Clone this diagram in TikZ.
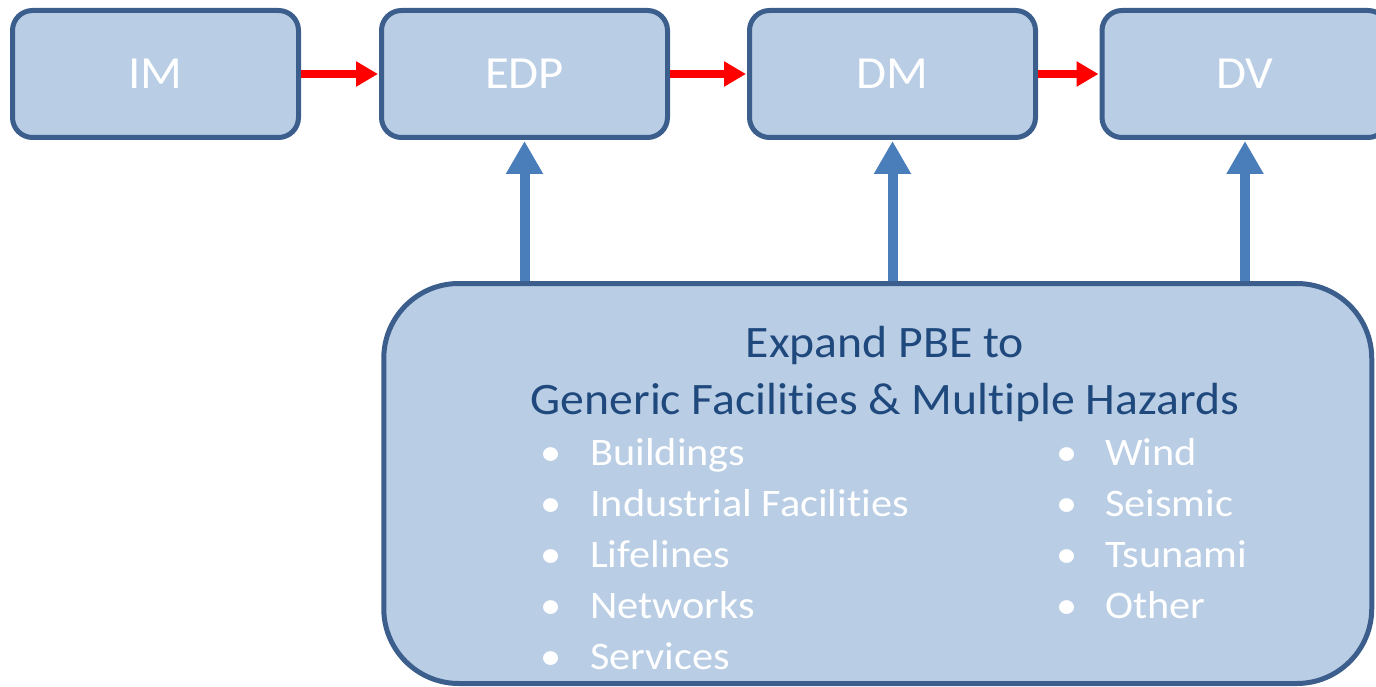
\documentclass[tikz,border=0pt]{standalone}
\usepackage{fontspec}
\setmainfont{Carlito}[Ligatures=NoCommon, FakeStretch=1.06]
\newfontfamily\bulletfont{Carlito}[Ligatures=NoCommon, FakeStretch=1.085]
\usetikzlibrary{arrows.meta}
\definecolor{boxfill}{HTML}{B9CDE5}
\definecolor{boxline}{HTML}{3B5E8C}
\definecolor{titleblue}{HTML}{1F497D}
\definecolor{arrowblue}{HTML}{4A7EBB}
\tikzset{
  stagebox/.style={draw=boxline, line width=5pt, fill=boxfill, rounded corners=20pt,
    minimum width=286pt, minimum height=127pt, inner sep=0pt, text=white,
    font=\fontsize{46}{50}\selectfont},
  bigbox/.style={draw=boxline, line width=5pt, fill=boxfill, rounded corners=75pt,
    minimum width=988pt, minimum height=400pt, inner sep=0pt},
  titletext/.style={anchor=base, text=titleblue, inner sep=0pt, font=\fontsize{45}{50}\selectfont},
  bullettext/.style={anchor=base west, text=white, inner sep=0pt, font=\bulletfont\fontsize{39}{44}\selectfont},
  redarrow/.style={draw=red, line width=8pt, -{Triangle[length=22pt,width=24pt]}, shorten >=1pt},
  bluearrow/.style={draw=arrowblue, line width=10pt, -{Triangle[length=33pt,width=35pt]}, shorten >=1pt}
}
\begin{document}
\begin{tikzpicture}[x=1pt,y=-1pt]
\useasboundingbox (0,0) rectangle (1376,687);
\clip (0,0) rectangle (1376,687);
\node[stagebox] (IM) at (155.5,74) {IM};
\node[stagebox] (EDP) at (524.5,74) {EDP};
\node[stagebox] (DM) at (892.5,74) {DM};
\node[stagebox] (DV) at (1245,74) {DV};
\node[bigbox] (big) at (877.75,483.5) {};
\node[titletext] (t1) at (885,357) {Expand PBE to};
\node[titletext] (t2) at (885,414) {Generic Facilities \& Multiple Hazards};
\foreach \txt [count=\i] in {Buildings,Industrial Facilities,Lifelines,Networks,Services}{
  \node[bullettext] (lb\i) at (540,{465+51*(\i-1)}) {•};
  \node[bullettext] (lt\i) at (590,{465+51*(\i-1)}) {\txt};
}
\foreach \txt [count=\i] in {Wind,Seismic,Tsunami,Other}{
  \node[bullettext] (rb\i) at (1056,{465+51*(\i-1)}) {•};
  \node[bullettext] (rt\i) at (1105,{465+51*(\i-1)}) {\txt};
}
\draw[redarrow] (IM.east) -- (EDP.west);
\draw[redarrow] (EDP.east) -- (DM.west);
\draw[redarrow] (DM.east) -- (DV.west);
\draw[bluearrow] (EDP.south |- big.north) -- (EDP.south);
\draw[bluearrow] (DM.south |- big.north) -- (DM.south);
\draw[bluearrow] (DV.south |- big.north) -- (DV.south);
\end{tikzpicture}
\end{document}
